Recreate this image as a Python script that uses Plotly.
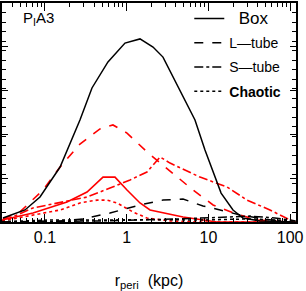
import plotly.graph_objects as go

# Black curves (pericentre distributions by orbit family)
box_r = [0.0306, 0.0569, 0.0869, 0.153, 0.268, 0.376, 0.590, 0.953, 1.455, 2.10, 2.78, 4.25, 6.85, 9.08, 14.3, 20.0, 26.5, 42.8, 117]
box_v = [0.018, 0.055, 0.114, 0.251, 0.466, 0.612, 0.731, 0.817, 0.836, 0.799, 0.753, 0.616, 0.466, 0.329, 0.132, 0.055, 0.018, 0.005, 0.0]

ltube_r = [0.0298, 0.153, 0.292, 0.625, 1.455, 2.78, 4.89, 8.59, 13.9, 24.4, 46.6, 99.8]
ltube_v = [0.0, 0.005, 0.014, 0.041, 0.078, 0.100, 0.105, 0.073, 0.055, 0.032, 0.014, 0.0]

stube_r = [0.0298, 0.471, 4.49, 13.9, 32.3, 65.3, 117]
stube_v = [0.0, 0.005, 0.014, 0.023, 0.027, 0.018, 0.005]

chaos_r = [0.0298, 0.115, 0.471, 1.93, 7.89, 32.3, 117]
chaos_v = [0.002, 0.009, 0.009, 0.011, 0.009, 0.014, 0.005]

# Red curves
rbox_r = [0.0298, 0.0713, 0.186, 0.327, 0.513, 0.719, 1.009, 1.455, 1.93, 4.89, 12.7, 117]
rbox_v = [0.009, 0.041, 0.091, 0.137, 0.205, 0.205, 0.146, 0.087, 0.055, 0.023, 0.0, 0.0]

rltube_r = [0.0306, 0.0494, 0.0945, 0.153, 0.268, 0.471, 0.679, 1.009, 1.77, 4.13, 6.48, 11.4, 21.8, 39.3, 99.8]
rltube_v = [0.014, 0.046, 0.146, 0.251, 0.356, 0.425, 0.443, 0.406, 0.320, 0.205, 0.146, 0.078, 0.037, 0.009, 0.0]

rstube_r = [0.0306, 0.0373, 0.0713, 0.140, 0.327, 0.625, 1.10, 1.77, 2.56, 3.39, 7.89, 16.9, 29.7, 56.7, 99.8, 117]
rstube_v = [0.014, 0.018, 0.064, 0.087, 0.114, 0.155, 0.192, 0.228, 0.297, 0.269, 0.205, 0.160, 0.100, 0.055, 0.009, 0.0]

rchaos_r = [0.0298, 0.0342, 0.0713, 0.153, 0.268, 0.433, 0.574, 0.761, 1.19, 1.77, 3.39, 7.89, 117]
rchaos_v = [0.005, 0.009, 0.032, 0.055, 0.087, 0.100, 0.100, 0.087, 0.046, 0.018, 0.005, 0.0, 0.0]

x_tickvals = [0.1, 1, 10, 100]
x_ticktext = ["0.1", "1", "10", "100"]

fig = go.Figure()

red = [
    (rbox_r, rbox_v, "solid"),
    (rltube_r, rltube_v, "dash"),
    (rstube_r, rstube_v, "dashdot"),
    (rchaos_r, rchaos_v, "dot"),
]
for r, v, d in red:
    fig.add_trace(go.Scatter(x=r, y=v, mode="lines", showlegend=False,
                             line=dict(color="#ff0000", width=1.6, dash=d)))

black = [
    (box_r, box_v, "solid", "<span style='font-size:17px'>&nbsp;&nbsp;Box</span>"),
    (ltube_r, ltube_v, "dash", "L\u2014tube"),
    (stube_r, stube_v, "dashdot", "S\u2014tube"),
    (chaos_r, chaos_v, "dot", "<b>Chaotic</b>"),
]
for i, (r, v, d, n) in enumerate(black):
    fig.add_trace(go.Scatter(x=r, y=v, mode="lines", name=n, legendgroup=str(i),
                             line=dict(color="black", width=1.5, dash=d)))

fig.add_annotation(text="P<sub>I</sub>A3", xref="paper", yref="paper", x=0.065, y=0.98,
                   xanchor="left", yanchor="top", showarrow=False,
                   font=dict(size=15, color="black", family="Liberation Sans"))

fig.update_layout(
    width=306, height=291,
    margin=dict(l=2, r=10, t=3, b=69),
    paper_bgcolor="white", plot_bgcolor="white",
    font=dict(family="Liberation Sans", color="black", size=14),
    legend=dict(x=0.637, y=1.0, xanchor="left", yanchor="top", bgcolor="rgba(0,0,0,0)",
                tracegroupgap=3, font=dict(size=14), itemwidth=30),
    xaxis=dict(type="log", range=[-1.526, 2.072], showgrid=False, zeroline=False,
               showline=True, linecolor="black", linewidth=1.5, mirror="ticks",
               ticks="inside", ticklen=8, tickwidth=1.2, tickcolor="black",
               tickvals=x_tickvals, ticktext=x_ticktext, tickfont=dict(size=16),
               ticklabeloverflow="allow",
               minor=dict(ticks="inside", ticklen=4, tickwidth=1, tickcolor="black",
                          tickvals=[a * b for b in [0.01, 0.1, 1, 10, 100] for a in range(2, 10)]),
               title=dict(text="r<sub>peri</sub>&nbsp;&nbsp;(kpc)", font=dict(size=16), standoff=30)),
    yaxis=dict(range=[0, 1], showgrid=False, zeroline=False, showticklabels=False,
               showline=True, linecolor="black", linewidth=1.5, mirror="ticks",
               ticks="inside", ticklen=6, tickwidth=1.2, tickcolor="black", dtick=0.2,
               minor=dict(ticks="inside", ticklen=4, tickwidth=1, tickcolor="black", dtick=0.0434)),
)

fig.write_html("out.html", config={"displayModeBar": False},
               post_script="document.body.style.margin='0';")
